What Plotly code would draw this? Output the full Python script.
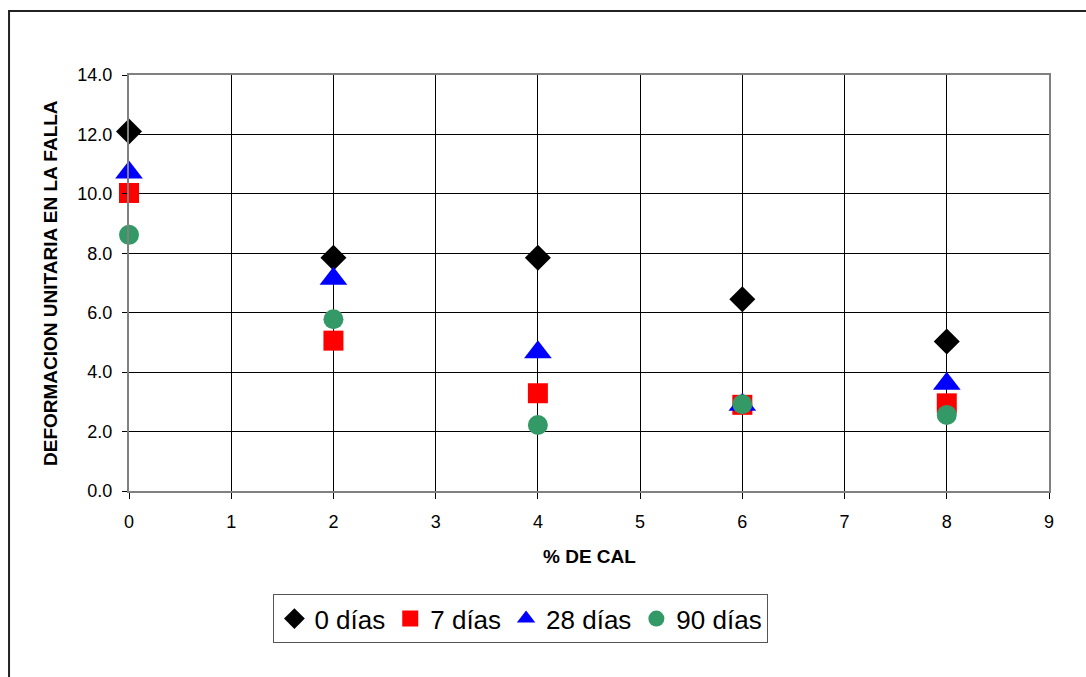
import plotly.graph_objects as go

# % de cal en la mezcla
cal = [0, 2, 4, 6, 8]

# Deformación unitaria en la falla por edad de curado
def_0_dias = [12.1, 7.85, 7.85, 6.45, 5.03]
def_7_dias = [10.03, 5.06, 3.29, 2.9, 2.95]
def_28_dias = [10.72, 7.14, 4.67, 2.9, 3.61]
def_90_dias = [8.62, 5.78, 2.22, 2.92, 2.56]

series = [
    ("0 días", def_0_dias, "diamond", "#000000", 20),
    ("7 días", def_7_dias, "square", "#FF0000", 20),
    ("28 días", def_28_dias, "triangle-up", "#0000FF", 24),
    ("90 días", def_90_dias, "circle", "#339966", 20),
]

fig = go.Figure()
for name, vals, sym, col, size in series:
    fig.add_trace(go.Scatter(
        x=cal, y=vals, name=name, mode="markers",
        marker=dict(symbol=sym, color=col, size=size, line=dict(width=0)),
        cliponaxis=False,
    ))

font_family = "Liberation Sans, Arial, sans-serif"

fig.update_layout(
    width=1086, height=677,
    margin=dict(l=129, r=37, t=75, b=186),
    paper_bgcolor="white", plot_bgcolor="white",
    font=dict(family=font_family, color="black", size=18),
    showlegend=True,
    legend=dict(
        orientation="h", x=0.426, xanchor="center", y=-0.307, yanchor="middle",
        bordercolor="#555555", borderwidth=1, bgcolor="white",
        font=dict(size=26, family=font_family),
        itemsizing="trace", tracegroupgap=0,
    ),
    xaxis=dict(
        range=[0, 9], dtick=1, tick0=0,
        showgrid=True, gridcolor="#000000", gridwidth=1,
        showline=True, linecolor="#808080", linewidth=2, mirror=True,
        ticks="outside", ticklen=6, tickcolor="#000000",
        tickfont=dict(size=18), ticklabelstandoff=7,
        zeroline=False,
    ),
    yaxis=dict(
        range=[0, 14], dtick=2, tick0=0, tickformat=".1f",
        showgrid=True, gridcolor="#000000", gridwidth=1,
        showline=True, linecolor="#808080", linewidth=2, mirror=True,
        ticks="outside", ticklen=5, tickcolor="#000000",
        tickfont=dict(size=18), ticklabelstandoff=6,
        zeroline=False,
    ),
    annotations=[
        dict(text="<b>% DE CAL</b>", xref="paper", yref="paper",
             x=0.5, y=-0.1575, xanchor="center", yanchor="middle",
             showarrow=False, font=dict(size=19, family=font_family)),
        dict(text="<b>DEFORMACION UNITARIA EN LA FALLA</b>", xref="paper", yref="paper",
             x=-0.0859, y=0.5, xanchor="center", yanchor="middle", textangle=-90,
             showarrow=False, font=dict(size=19, family=font_family)),
    ],
    shapes=[
        dict(type="rect", xref="paper", yref="paper",
             x0=-0.1304, y0=-0.6, x1=1.2, y1=1.1538,
             line=dict(color="#222222", width=2), layer="below"),
    ],
)

fig.write_html("out.html")
